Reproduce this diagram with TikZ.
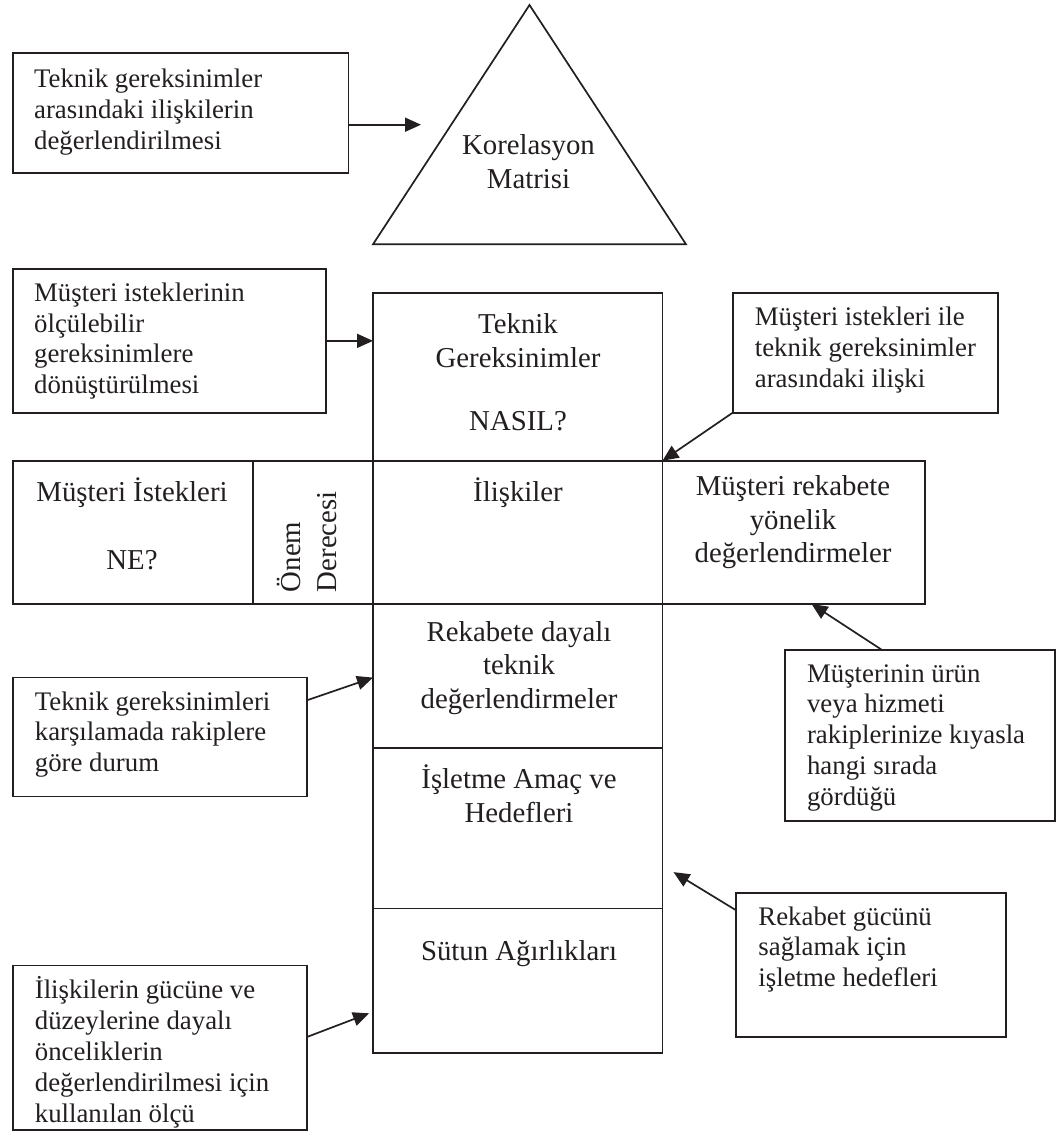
\documentclass[tikz,border=0pt]{standalone}
\usepackage{fontspec}
\setmainfont{Liberation Serif}
\usetikzlibrary{arrows.meta,calc}
\definecolor{ink}{RGB}{35,31,32}
\begin{document}
\begin{tikzpicture}[x=1pt,y=-1pt,color=ink,line width=1.7pt,
  cell/.style={draw, rectangle, inner sep=0pt, outer sep=0pt, anchor=north west},
  note/.style={draw, rectangle, inner sep=0pt, outer sep=0pt, anchor=north west},
  big/.style={font=\fontsize{28.8}{33.5}\selectfont, inner sep=0pt, align=center},
  small/.style={font=\fontsize{26.8}{30.8}\selectfont, inner sep=0pt, align=left, anchor=west},
  arr/.style={draw, -{Triangle[length=16pt,width=14pt]}},
]
\fill[white] (0,0) rectangle (1058,1133);
\useasboundingbox (0,0) rectangle (1058,1133);

% correlation roof
\coordinate (tA) at (529.5,5);
\coordinate (tL) at (373,244.3);
\coordinate (tR) at (686,244.3);
\draw[line join=miter] (tL) -- (tA) -- (tR) -- cycle;
\node[big] (kor) at (528.5,161.7) {Korelasyon\\Matrisi};

% house body
\node[cell, minimum width=289.5pt, minimum height=167.4pt] (nasil) at (373,293.3) {};
\node[cell, minimum width=240.6pt, minimum height=143.3pt] (ne) at (12.7,460.7) {};
\node[cell, minimum width=119.7pt, minimum height=143.3pt] (onem) at (253.3,460.7) {};
\node[cell, minimum width=289.5pt, minimum height=143.3pt] (iliski) at (373,460.7) {};
\node[cell, minimum width=262.5pt, minimum height=143.3pt] (rkb) at (662.5,460.7) {};
\node[cell, minimum width=289.5pt, minimum height=144.3pt] (rek) at (373,604) {};
\node[cell, minimum width=289.5pt, minimum height=160.2pt] (isl) at (373,748.3) {};
\node[cell, minimum width=289.5pt, minimum height=144.5pt] (sut) at (373,908.5) {};

% labels inside the house
\node[big] (nasiltxt) at (518,372.5) {Teknik\\Gereksinimler\\[30pt]NASIL?};
\node[big] (ilisktxt) at (518,493) {İlişkiler};
\node[big] (netxt) at (132,524) {Müşteri İstekleri\\[34pt]NE?};
\node[big, align=left, rotate=90, anchor=west, font=\fontsize{28.8}{36}\selectfont] (onemtxt) at (306.7,593) {Önem\\Derecesi};
\node[big] (rkbtxt) at (793,522.5) {Müşteri rekabete\\yönelik\\değerlendirmeler};
\node[big] (rektxt) at (519,668) {Rekabete dayalı\\teknik\\değerlendirmeler};
\node[big] (isltxt) at (519,793.5) {İşletme Amaç ve\\Hedefleri};
\node[big] (suttxt) at (519,953.7) {Sütun Ağırlıkları};

% explanatory notes
\node[note, minimum width=335.8pt, minimum height=120pt] (b1) at (12.7,52.7) {};
\node[small] (t1) at (33.3,112) {Teknik gereksinimler\\arasındaki ilişkilerin\\değerlendirilmesi};
\node[note, minimum width=313pt, minimum height=143.7pt] (b2) at (12.7,269) {};
\node[small] (t2) at (33.3,341) {Müşteri isteklerinin\\ölçülebilir\\gereksinimlere\\dönüştürülmesi};
\node[note, minimum width=265pt, minimum height=119.4pt] (b3) at (732.7,293.3) {};
\node[small] (t3) at (754,350) {Müşteri istekleri ile\\teknik gereksinimler\\arasındaki ilişki};
\node[note, minimum width=270pt, minimum height=170.7pt] (b4) at (784.8,650.3) {};
\node[small] (t4) at (806.2,737.8) {Müşterinin ürün\\veya hizmeti\\rakiplerinize kıyasla\\hangi sırada\\gördüğü};
\node[note, minimum width=270pt, minimum height=143.8pt] (b5) at (735.8,893.2) {};
\node[small] (t5) at (757.6,949.5) {Rekabet gücünü\\sağlamak için\\işletme hedefleri};
\node[note, minimum width=294pt, minimum height=119pt] (b6) at (12.9,677.6) {};
\node[small] (t6) at (34,734.4) {Teknik gereksinimleri\\karşılamada rakiplere\\göre durum};
\node[note, minimum width=294pt, minimum height=164.4pt] (b7) at (12.9,965.6) {};
\node[small] (t7) at (34,1052.3) {İlişkilerin gücüne ve\\düzeylerine dayalı\\önceliklerin\\değerlendirilmesi için\\kullanılan ölçü};

% free arrow ends
\coordinate (k1) at (421,124.7);
\coordinate (k5) at (673.5,872.1);
\coordinate (k7) at (369,1013.3);

% connectors
\draw[arr] ([yshift=-12pt]b1.east) -- (k1);
\draw[arr] (b2.east) -- (b2.east -| nasil.west);
\draw[arr] (b3.south west) -- (nasil.south east);
\draw[arr] ($(b4.north west)!0.362!(b4.north east)$) -- ($(rkb.south west)!0.568!(rkb.south east)$);
\draw[arr] ([yshift=36.8pt]b6.east) -- (rek.west |- 0,677.6);
\draw[arr] ([yshift=55pt]b5.west) -- (k5);
\draw[arr] ([yshift=10.8pt]b7.east) -- (k7);
\end{tikzpicture}
\end{document}
